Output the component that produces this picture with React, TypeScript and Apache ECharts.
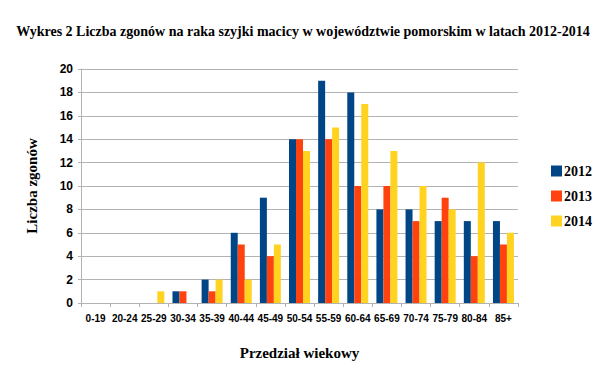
import React, { useEffect, useRef } from "react";
import * as echarts from "echarts";

const categories = ["0-19", "20-24", "25-29", "30-34", "35-39", "40-44", "45-49", "50-54", "55-59", "60-64", "65-69", "70-74", "75-79", "80-84", "85+"];
const s2012 = [0, 0, 0, 1, 2, 6, 9, 14, 19, 18, 8, 8, 7, 7, 7];
const s2013 = [0, 0, 0, 1, 1, 5, 4, 14, 14, 10, 10, 7, 9, 4, 5];
const s2014 = [0, 0, 1, 0, 2, 2, 5, 13, 15, 17, 13, 10, 8, 12, 6];
const seriesNames = ["2012", "2013", "2014"];
const colors = ["#004586", "#ff420e", "#ffd320"];

const SERIF = "'Liberation Serif', 'Times New Roman', serif";
const SANS = "'Liberation Sans', Arial, sans-serif";

export default function App() {
  const ref = useRef<HTMLDivElement>(null);
  useEffect(() => {
    const chart = echarts.init(ref.current!, null, { renderer: "svg" });
    const data = [s2012, s2013, s2014];
    chart.setOption({
      animation: false,
      backgroundColor: "#ffffff",
      title: {
        text: "Wykres 2 Liczba zgonów na raka szyjki macicy w województwie pomorskim w latach 2012-2014",
        left: "center",
        top: 19,
        textStyle: { fontFamily: SERIF, fontWeight: "bold", fontSize: 14, color: "#000" },
      },
      legend: {
        orient: "vertical",
        left: 546,
        top: 159,
        itemWidth: 11,
        itemHeight: 11,
        itemGap: 11,
        icon: "rect",
        textStyle: { fontFamily: SERIF, fontWeight: "bold", fontSize: 14, color: "#000", padding: [0, 0, 0, -3] },
        data: seriesNames,
      },
      grid: { left: 81, right: 88, top: 69, bottom: 80 },
      xAxis: {
        type: "category",
        data: categories,
        name: "Przedział wiekowy",
        nameLocation: "middle",
        nameGap: 42,
        nameTextStyle: { fontFamily: SERIF, fontWeight: "bold", fontSize: 15, color: "#000" },
        axisLine: { lineStyle: { color: "#b3b3b3" } },
        axisTick: { show: true, length: 4, lineStyle: { color: "#b3b3b3" } },
        axisLabel: { interval: 0, fontFamily: SANS, fontWeight: "bold", fontSize: 10, color: "#000", margin: 10 },
      },
      yAxis: {
        type: "value",
        min: 0,
        max: 20,
        interval: 2,
        name: "Liczba zgonów",
        nameLocation: "middle",
        nameGap: 42,
        nameTextStyle: { fontFamily: SERIF, fontWeight: "bold", fontSize: 15, color: "#000" },
        axisLine: { show: true, lineStyle: { color: "#b3b3b3" } },
        axisTick: { show: true, length: 3, lineStyle: { color: "#b3b3b3" } },
        splitLine: { lineStyle: { color: "#b3b3b3" } },
        axisLabel: { fontFamily: SANS, fontWeight: "bold", fontSize: 12, color: "#000", margin: 8 },
      },
      series: seriesNames.map((n, i) => ({
        name: n,
        type: "bar",
        data: data[i],
        itemStyle: { color: colors[i] },
        barGap: "0%",
        barCategoryGap: "28%",
      })),
    });
    return () => chart.dispose();
  }, []);
  return <div ref={ref} style={{ width: 606, height: 383, position: "absolute", left: 0, top: 0 }} />;
}
